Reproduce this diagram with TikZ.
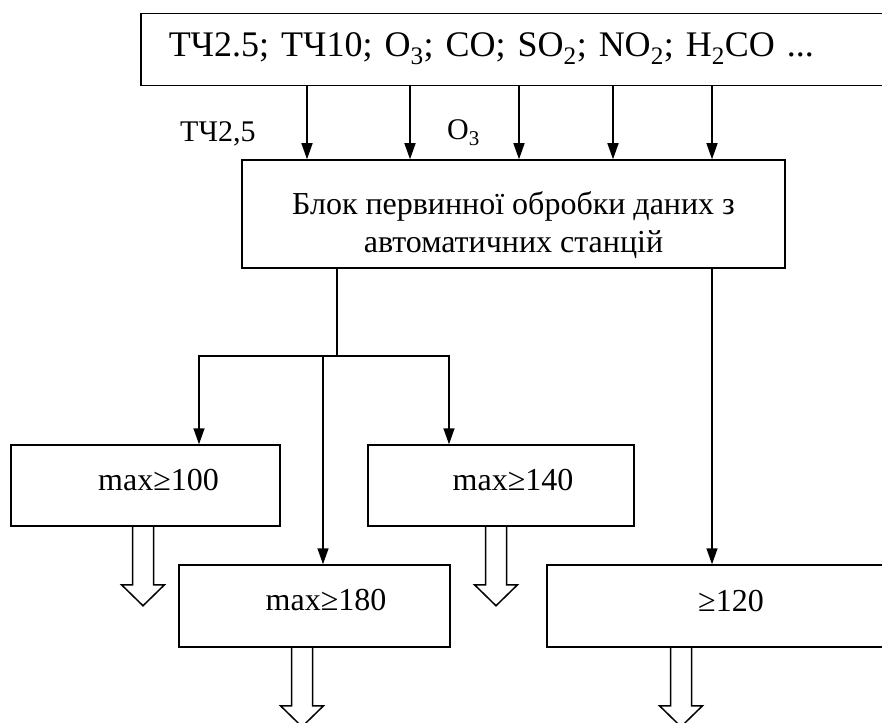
\documentclass[tikz,border=0pt]{standalone}
\usepackage{fontspec}
\setmainfont{Liberation Serif}
\usetikzlibrary{arrows.meta,calc}
\begin{document}
\begin{tikzpicture}[x=1pt,y=-1pt,
  box/.style={draw, line width=1.5pt, rectangle, inner sep=0pt},
  arr/.style={line width=1.5pt, -{Triangle[length=16pt,width=11pt]}},
  ln/.style={line width=1.5pt},
  hollow/.style={line width=1.5pt, line join=miter},
  lbl/.style={font=\fontsize{32}{36}\selectfont, inner sep=0pt},
  sidelbl/.style={font=\fontsize{30}{34}\selectfont, anchor=base west, inner sep=0pt}]
\useasboundingbox (0,0) rectangle (882,722);
\clip (0,0) rectangle (882,722);

% top box
\node[box, anchor=north west, minimum height=72pt, text width=760pt, inner xsep=28pt,
      align=left, text height=25pt, text depth=11pt, font=\fontsize{36}{40}\selectfont]
  (top) at (140,13) {ТЧ2.5; ТЧ10; O\textsubscript{3}; CO; SO\textsubscript{2}; NO\textsubscript{2}; H\textsubscript{2}CO ...};

% middle box
\node[box, minimum width=543pt, minimum height=108pt,
      label={[yshift=-11pt, inner sep=0pt, align=center,
              font=\fontsize{32}{38}\selectfont]center:Блок первинної обробки даних з\\автоматичних станцій}]
  (mid) at (513.5,214) {};

% side labels
\node[sidelbl] (lT) at (180,142) {ТЧ2,5};
\node[sidelbl] (lO) at (447,140) {O\textsubscript{3}};

% bottom boxes
\node[box, minimum width=269pt, minimum height=81pt,
      label={[lbl, xshift=13pt, yshift=5.5pt]center:max≥100}] (b100) at (145.5,485.5) {};
\node[box, minimum width=266pt, minimum height=81pt,
      label={[lbl, xshift=12pt, yshift=5.5pt]center:max≥140}] (b140) at (501,485.5) {};
\node[box, minimum width=271pt, minimum height=82pt,
      label={[lbl, xshift=11.5pt, yshift=6pt]center:max≥180}] (b180) at (314.5,606) {};
\node[box, minimum width=368pt, minimum height=82pt,
      label={[lbl, yshift=5pt]center:≥120}] (b120) at (731,606) {};

% arrows from top box to middle box
\foreach \x [count=\i] in {307,410,519,613,712} {
  \coordinate (t\i) at (\x,0);
  \draw[arr] (top.south -| t\i) -- (mid.north -| t\i);
}

% distribution bus
\coordinate (cJ) at (337,356);
\coordinate (busL) at (199,356);
\coordinate (busR) at (449,356);
\coordinate (bus180) at (323,356);
\coordinate (cR) at (712,0);
\draw[ln] (mid.south -| cJ) -- (cJ);
\draw[arr] (cJ) -- (busL) -- (b100.north -| busL);
\draw[arr] (cJ) -- (busR) -- (b140.north -| busR);
\draw[arr] (bus180) -- (b180.north -| bus180);
\draw[arr] (mid.south -| cR) -- (b120.north -| cR);

% hollow output arrows
\coordinate (h1) at (143,0);
\coordinate (h2) at (496,0);
\coordinate (h3) at (302,0);
\coordinate (h4) at (681,0);
\draw[hollow] (b100.south -| h1) ++(-10.5,0) -- ++(0,58) -- ++(-11,0) -- ++(21.5,21) -- ++(21.5,-21) -- ++(-11,0) -- ++(0,-58);
\draw[hollow] (b140.south -| h2) ++(-10.5,0) -- ++(0,58) -- ++(-11,0) -- ++(21.5,21) -- ++(21.5,-21) -- ++(-11,0) -- ++(0,-58);
\draw[hollow] (b180.south -| h3) ++(-10.5,0) -- ++(0,58) -- ++(-11,0) -- ++(21.5,21) -- ++(21.5,-21) -- ++(-11,0) -- ++(0,-58);
\draw[hollow] (b120.south -| h4) ++(-10.5,0) -- ++(0,58) -- ++(-11,0) -- ++(21.5,21) -- ++(21.5,-21) -- ++(-11,0) -- ++(0,-58);
\end{tikzpicture}
\end{document}
